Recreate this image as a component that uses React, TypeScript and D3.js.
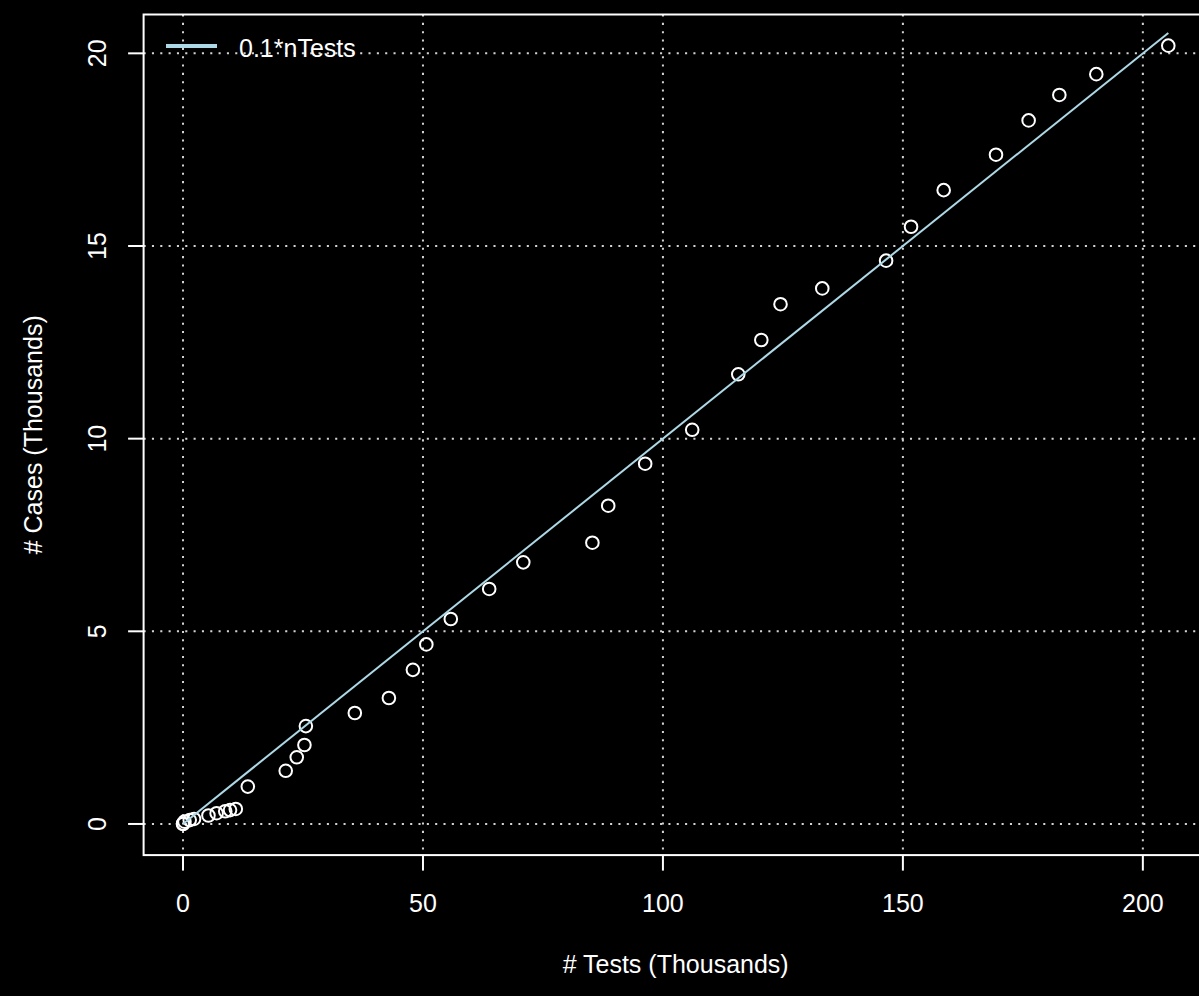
import React, { useEffect } from "react";
import * as d3 from "d3";

// Data (thousands)
const nTests = [
  0, 0.02, 0.3, 1.4, 2.3, 5.3, 7.0, 8.8, 9.8, 11.0, 13.5, 21.4, 23.7, 25.3, 25.6,
  35.8, 42.9, 47.9, 50.7, 55.8, 63.8, 70.9, 85.3, 88.6, 96.3, 106.1, 115.7, 120.5,
  124.5, 133.2, 146.5, 151.7, 158.5, 169.4, 176.2, 182.6, 190.3, 205.3,
];
const nCases = [
  0, 0.01, 0.06, 0.1, 0.13, 0.22, 0.28, 0.33, 0.36, 0.39, 0.97, 1.38, 1.73, 2.05, 2.54,
  2.88, 3.27, 4.0, 4.66, 5.32, 6.1, 6.79, 7.3, 8.26, 9.35, 10.23, 11.67, 12.56,
  13.49, 13.9, 14.62, 15.5, 16.45, 17.37, 18.26, 18.92, 19.46, 20.2,
];
const xTicks = [0, 50, 100, 150, 200];
const yTicks = [0, 5, 10, 15, 20];
const legendLabel = "0.1*nTests";
const xTitle = "# Tests (Thousands)";
const yTitle = "# Cases (Thousands)";
const rate = 0.1;

const W = 1199;
const H = 996;
const L = 143.6, R = 1207.7, T = 14.5, B = 855.1;
const FONT = "'Liberation Sans', Arial, Helvetica, sans-serif";
const FS = 25;

function pad([a, b]: [number, number]): [number, number] {
  const d = (b - a) * 0.04;
  return [a - d, b + d];
}

export default function App() {
  useEffect(() => {
    document.body.style.margin = "0";
    document.body.style.background = "#000";
    document.body.style.overflow = "hidden";
  }, []);

  const xExt = d3.extent(nTests) as [number, number];
  const yExt = d3.extent(nCases) as [number, number];
  const x = d3.scaleLinear().domain(pad(xExt)).range([L, R]);
  const y = d3.scaleLinear().domain(pad(yExt)).range([B, T]);

  const lineData: [number, number][] = [xExt[0], xExt[1]].map((v) => [v, v * rate]);
  const line = d3
    .line<[number, number]>()
    .x((d) => x(d[0]))
    .y((d) => y(d[1]));

  const gridStyle = {
    stroke: "#D3D3D3",
    strokeWidth: 2,
    strokeDasharray: "2.08,6.25",
  };

  return (
    <svg width={W} height={H} style={{ position: "absolute", left: 0, top: 0, display: "block" }}>
      <rect x={0} y={0} width={W} height={H} fill="#000" />
      {/* grid */}
      {xTicks.map((t) => (
        <line key={"gx" + t} x1={x(t)} x2={x(t)} y1={T} y2={B} {...gridStyle} />
      ))}
      {yTicks.map((t) => (
        <line key={"gy" + t} x1={L} x2={R} y1={y(t)} y2={y(t)} {...gridStyle} />
      ))}
      {/* box */}
      <rect x={L} y={T} width={R - L} height={B - T} fill="none" stroke="#fff" strokeWidth={2} />
      {/* x axis */}
      {xTicks.map((t) => (
        <g key={"xt" + t}>
          <line x1={x(t)} x2={x(t)} y1={B} y2={B + 15.5} stroke="#fff" strokeWidth={2} />
          <text x={x(t)} y={912} fill="#fff" fontFamily={FONT} fontSize={FS} textAnchor="middle">
            {t}
          </text>
        </g>
      ))}
      {/* y axis */}
      {yTicks.map((t) => (
        <g key={"yt" + t}>
          <line x1={L - 15.5} x2={L} y1={y(t)} y2={y(t)} stroke="#fff" strokeWidth={2} />
          <text
            transform={`translate(106,${y(t)}) rotate(-90)`}
            fill="#fff"
            fontFamily={FONT}
            fontSize={FS}
            textAnchor="middle"
          >
            {t}
          </text>
        </g>
      ))}
      <text x={(L + R) / 2} y={973} fill="#fff" fontFamily={FONT} fontSize={FS} textAnchor="middle">
        {xTitle}
      </text>
      <text
        transform={`translate(41.5,${(T + B) / 2}) rotate(-90)`}
        fill="#fff"
        fontFamily={FONT}
        fontSize={FS}
        textAnchor="middle"
      >
        {yTitle}
      </text>
      {/* points */}
      {nTests.map((v, i) => (
        <circle key={"p" + i} cx={x(v)} cy={y(nCases[i])} r={6.3} fill="none" stroke="#fff" strokeWidth={2} />
      ))}
      {/* reference line */}
      <path d={line(lineData) || ""} fill="none" stroke="#ADD8E6" strokeWidth={2} />
      {/* legend */}
      <line x1={166} x2={217} y1={46} y2={46} stroke="#ADD8E6" strokeWidth={4} />
      <text x={239} y={56.5} fill="#fff" fontFamily={FONT} fontSize={FS}>
        {legendLabel}
      </text>
    </svg>
  );
}
